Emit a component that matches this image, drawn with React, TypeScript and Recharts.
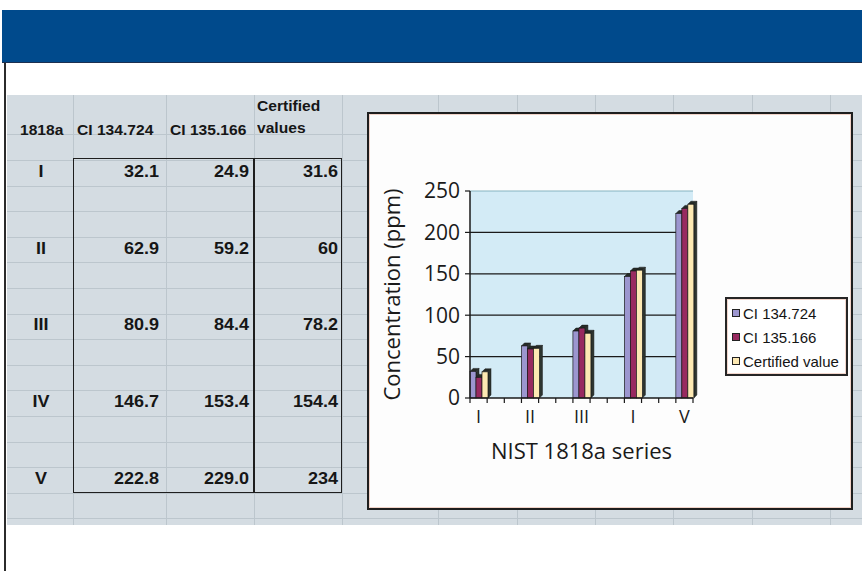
import React from 'react';
import { BarChart, Bar, XAxis, YAxis, CartesianGrid, ReferenceLine, Legend } from 'recharts';

// ---- data ----
const seriesNames = ['I', 'II', 'III', 'IV', 'V'];
const axisTickLabels = ['I', 'II', 'III', 'I', 'V'];
const ci134 = [32.1, 62.9, 80.9, 146.7, 222.8];
const ci135 = [24.9, 59.2, 84.4, 153.4, 229.0];
const certified = [31.6, 60, 78.2, 154.4, 234];
const ci134Text = ['32.1', '62.9', '80.9', '146.7', '222.8'];
const ci135Text = ['24.9', '59.2', '84.4', '153.4', '229.0'];
const certifiedText = ['31.6', '60', '78.2', '154.4', '234'];
const tableHeaders = ['1818a', 'CI 134.724', 'CI 135.166'];
const certifiedHeader = ['Certified', 'values'];
const legendNames = ['CI 134.724', 'CI 135.166', 'Certified value'];
const yTicks = [0, 50, 100, 150, 200, 250];
const gridValues = [50, 100, 150, 200];
const blankRowsBetween = 2;

const COLORS = ['#9c96cf', '#982a60', '#fde9b3'];

type Row = { cat: string; tick: string; a: number | null; b: number | null; c: number | null };
const chartRows: Row[] = [];
seriesNames.forEach((s, i) => {
  chartRows.push({ cat: s, tick: axisTickLabels[i], a: ci134[i], b: ci135[i], c: certified[i] });
  if (i < seriesNames.length - 1) {
    for (let k = 1; k <= blankRowsBetween; k++) {
      chartRows.push({ cat: `${s}-${k}`, tick: '', a: null, b: null, c: null });
    }
  }
});
const tickByCat: Record<string, string> = {};
chartRows.forEach((r) => (tickByCat[r.cat] = r.tick));

// ---- spreadsheet layout ----
const ROW_TOP = 160;
const ROW_H = 25.6;
const rowLines: number[] = [];
for (let k = -1; k <= 14; k++) rowLines.push(ROW_TOP + ROW_H * k);
const colLines = [73, 166, 254, 342, 438, 517, 595, 673, 752, 830];

const cellFont: React.CSSProperties = {
  position: 'absolute',
  fontFamily: '"Liberation Sans", Arial, sans-serif',
  fontWeight: 'bold',
  color: '#161616',
  whiteSpace: 'nowrap',
};

const Bar3D = (props: any) => {
  const { x, y, width, height, fill } = props;
  if (x == null || y == null || !height || height <= 0) return <g />;
  const d = 3;
  const side = '#2d3530';
  return (
    <g>
      <polygon
        points={`${x + width},${y} ${x + width + d},${y - d} ${x + width + d},${y + height - d} ${x + width},${y + height}`}
        fill={side}
        stroke="#1a1a1a"
        strokeWidth={0.5}
      />
      <polygon
        points={`${x},${y} ${x + d},${y - d} ${x + width + d},${y - d} ${x + width},${y}`}
        fill="#252b27"
        stroke="#1a1a1a"
        strokeWidth={0.5}
      />
      <rect x={x} y={y} width={width} height={height} fill={fill} stroke="#1a1a1a" strokeWidth={0.7} />
    </g>
  );
};

const XTick = (props: any) => {
  const { x, y, payload, index, visibleTicksCount, width } = props;
  const count = visibleTicksCount || chartRows.length;
  const half = (width || 223) / count / 2;
  const axisY = y - 8;
  const label = tickByCat[payload?.value] ?? '';
  return (
    <g>
      <line x1={x - half} x2={x - half} y1={axisY} y2={axisY + 5} stroke="#1a1a1a" strokeWidth={1.2} />
      {index === count - 1 && (
        <line x1={x + half} x2={x + half} y1={axisY} y2={axisY + 5} stroke="#1a1a1a" strokeWidth={1.2} />
      )}
      <text x={x} y={axisY + 25} textAnchor="middle" fontSize={18} fontFamily='"Open Sans", sans-serif' fill="#1a1a1a">
        {label}
      </text>
    </g>
  );
};

const LegendBox = (props: any) => {
  const payload = props.payload || [];
  return (
    <div
      style={{
        border: '2px solid #262626',
        background: '#fff',
        boxShadow: 'inset 0 0 0 1px #f2d6cc',
        padding: '2px 0 1px 5px',
        boxSizing: 'border-box',
        width: 123,
      }}
    >
      {payload.map((p: any, i: number) => (
        <div
          key={i}
          style={{
            display: 'flex',
            alignItems: 'center',
            height: 24,
            fontFamily: '"Liberation Sans", Arial, sans-serif',
            fontSize: 15,
            color: '#141414',
            whiteSpace: 'nowrap',
          }}
        >
          <span
            style={{
              display: 'inline-block',
              width: 6,
              height: 6,
              border: '1px solid #222',
              background: p.color,
              marginRight: 3,
            }}
          />
          {p.value}
        </div>
      ))}
    </div>
  );
};

const headStyle = (left: number, top: number): React.CSSProperties => ({
  ...cellFont,
  left,
  top,
  fontSize: 15,
  lineHeight: '20px',
  transform: 'scaleX(1.04)',
  transformOrigin: 'left',
});

export default function App() {
  return (
    <div style={{ position: 'absolute', left: 0, top: 0, width: 862, height: 571, background: '#fff', overflow: 'hidden' }}>
      {/* header */}
      <div style={{ position: 'absolute', left: 2, top: 10, width: 860, height: 53, background: '#004a8c', borderBottom: '1px solid #1d3050', boxSizing: 'border-box' }} />
      <div style={{ position: 'absolute', left: 4, top: 63, width: 2, height: 508, background: '#2b2b2b' }} />

      {/* spreadsheet */}
      <div style={{ position: 'absolute', left: 7, top: 95, width: 855, height: 430, background: '#d4dce2', overflow: 'hidden' }}>
        {rowLines.map((y, i) => (
          <div key={'r' + i} style={{ position: 'absolute', left: 0, top: y - 95, width: 855, height: 1, background: '#bcc6cd' }} />
        ))}
        {colLines.map((x, i) => (
          <div key={'c' + i} style={{ position: 'absolute', left: x - 7, top: 0, width: 1, height: 430, background: '#bcc6cd' }} />
        ))}
      </div>

      {/* table headers */}
      <div style={headStyle(20, 120)}>{tableHeaders[0]}</div>
      <div style={headStyle(77, 120)}>{tableHeaders[1]}</div>
      <div style={headStyle(170, 120)}>{tableHeaders[2]}</div>
      <div style={headStyle(257, 96)}>{certifiedHeader[0]}</div>
      <div style={headStyle(257, 118)}>{certifiedHeader[1]}</div>

      {/* table body */}
      {seriesNames.map((s, i) => {
        const cy = ROW_TOP + ROW_H * (i * (blankRowsBetween + 1) + 0.5) - 1;
        const common = { ...cellFont, top: cy - 10, height: 20, lineHeight: '20px', fontSize: 17 };
        return (
          <React.Fragment key={s}>
            <div style={{ ...common, left: 8, width: 66, textAlign: 'center', transform: 'scaleX(1.06)', transformOrigin: 'center' }}>{s}</div>
            <div style={{ ...common, left: 73, width: 86, textAlign: 'right', transform: 'scaleX(1.06)', transformOrigin: 'right' }}>{ci134Text[i]}</div>
            <div style={{ ...common, left: 166, width: 83, textAlign: 'right', transform: 'scaleX(1.06)', transformOrigin: 'right' }}>{ci135Text[i]}</div>
            <div style={{ ...common, left: 254, width: 84, textAlign: 'right', transform: 'scaleX(1.06)', transformOrigin: 'right' }}>{certifiedText[i]}</div>
          </React.Fragment>
        );
      })}
      <div style={{ position: 'absolute', left: 73, top: 158, width: 269, height: 335, border: '1.5px solid #1e1e1e', boxSizing: 'border-box' }} />
      <div style={{ position: 'absolute', left: 253, top: 158, width: 1.5, height: 335, background: '#1e1e1e' }} />

      {/* chart frame */}
      <div style={{ position: 'absolute', left: 367, top: 112, width: 486, height: 398, border: '2px solid #1e1e1e', background: '#fdfdfd', boxShadow: 'inset 0 0 0 1px #f1d3c8', boxSizing: 'border-box' }} />

      {/* chart */}
      <div style={{ position: 'absolute', left: 0, top: 0 }}>
        <BarChart
          width={862}
          height={571}
          data={chartRows}
          margin={{ top: 191, right: 169, left: 314, bottom: 75 }}
          barCategoryGap={0}
          barGap={0}
        >
          <CartesianGrid
            vertical={false}
            horizontalValues={gridValues}
            stroke="#1a1a1a"
            strokeWidth={1.2}
            fill="#d3ebf6"
            fillOpacity={1}
          />
          <ReferenceLine y={250} stroke="#86b4c0" strokeWidth={1} />
          <XAxis
            dataKey="cat"
            interval={0}
            height={98}
            tickLine={false}
            tickSize={6}
            tickMargin={2}
            axisLine={{ stroke: '#1a1a1a', strokeWidth: 1.5 }}
            tick={<XTick />}
            label={{ value: 'NIST 1818a series', position: 'center', fontSize: 22, fill: '#1a1a1a', fontFamily: '"Open Sans", sans-serif', dy: 4 }}
          />
          <YAxis
            domain={[0, 250]}
            ticks={yTicks}
            width={156}
            tickSize={5}
            tickMargin={5}
            axisLine={{ stroke: '#1a1a1a', strokeWidth: 1.5 }}
            tickLine={{ stroke: '#1a1a1a', strokeWidth: 1.2 }}
            tick={{ fontSize: 21, fill: '#1a1a1a', fontFamily: '"Open Sans", sans-serif' }}
            label={{ value: 'Concentration (ppm)', angle: -90, position: 'center', fontSize: 22, fill: '#1a1a1a', fontFamily: '"Open Sans", sans-serif' }}
          />
          <Legend
            layout="vertical"
            align="center"
            verticalAlign="middle"
            content={<LegendBox />}
            wrapperStyle={{ left: 725, top: 297, width: 123 }}
          />
          <Bar dataKey="a" name={legendNames[0]} fill={COLORS[0]} shape={<Bar3D />} isAnimationActive={false} />
          <Bar dataKey="b" name={legendNames[1]} fill={COLORS[1]} shape={<Bar3D />} isAnimationActive={false} />
          <Bar dataKey="c" name={legendNames[2]} fill={COLORS[2]} shape={<Bar3D />} isAnimationActive={false} />
        </BarChart>
      </div>
    </div>
  );
}
